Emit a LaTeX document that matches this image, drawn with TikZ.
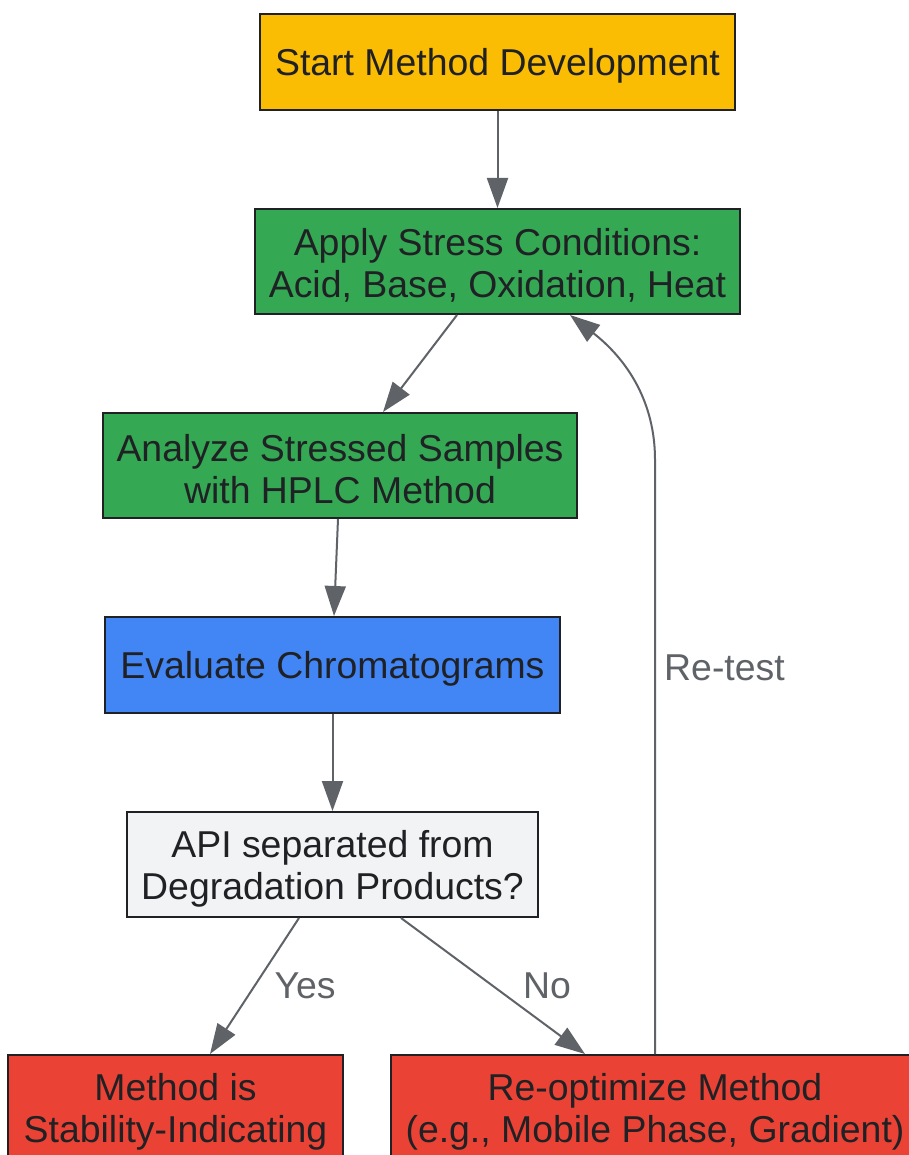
\documentclass[tikz,border=0pt]{standalone}
\usepackage{fontspec}
\setmainfont{Liberation Sans}
\usetikzlibrary{arrows.meta,calc}
\definecolor{cyellow}{HTML}{FBBC04}
\definecolor{cgreen}{HTML}{34A853}
\definecolor{cblue}{HTML}{4285F4}
\definecolor{cgray}{HTML}{F1F3F4}
\definecolor{cred}{HTML}{EA4335}
\definecolor{ctext}{HTML}{202124}
\definecolor{cedge}{HTML}{5F6368}
\tikzset{
  box/.style={draw=ctext, line width=2pt, inner sep=0pt},
  txt/.style={align=center, text=ctext, inner sep=0pt, yshift=-4pt,
    font=\fontsize{37.4pt}{42pt}\selectfont},
  edge/.style={draw=cedge, line width=2pt, -{Triangle[length=30pt,width=21pt]}},
  elabel/.style={text=cedge, font=\fontsize{37.4pt}{42pt}\selectfont, inner sep=0pt}
}
\begin{document}
\begin{tikzpicture}[x=1pt,y=-1pt]
\useasboundingbox (0,0) rectangle (909,1155);
\clip (0,0) rectangle (909,1155);
\fill[white] (0,0) rectangle (909,1155);
\node[box, fill=cyellow, minimum width=475pt, minimum height=96pt,
  label={[txt]center:Start Method Development}] (start) at (497.5,62) {};
\node[box, fill=cgreen, minimum width=485pt, minimum height=105pt,
  label={[txt]center:Apply Stress Conditions:\\Acid, Base, Oxidation, Heat}] (apply) at (497.5,261.5) {};
\node[box, fill=cgreen, minimum width=474pt, minimum height=105pt,
  label={[txt]center:Analyze Stressed Samples\\with HPLC Method}] (analyze) at (340,465.5) {};
\node[box, fill=cblue, minimum width=455pt, minimum height=96pt,
  label={[txt]center:Evaluate Chromatograms}] (eval) at (332.5,665) {};
\node[box, fill=cgray, minimum width=411pt, minimum height=105pt,
  label={[txt]center:API separated from\\Degradation Products?}] (api) at (332.5,864.5) {};
\node[box, fill=cred, minimum width=335pt, minimum height=105pt,
  label={[txt]center:Method is\\Stability-Indicating}] (meth) at (175.5,1107.5) {};
\node[box, fill=cred, minimum width=528pt, minimum height=105pt,
  label={[txt]center:Re-optimize Method\\(e.g., Mobile Phase, Gradient)}] (reopt) at (655,1107.5) {};

\draw[edge] (start.south) -- (apply.north);
\draw[edge] ($(apply.south)+(-40.5,0)$) -- ($(analyze.north)+(43,0)$);
\draw[edge] ($(analyze.south)+(-2,0)$) -- ($(eval.north)+(1.5,0)$);
\draw[edge] (eval.south) -- (api.north);
\draw[edge] ($(api.south)+(-33.5,0)$) -- node[elabel, pos=0.5, right=19pt] (yes) {Yes} ($(meth.north)+(34.5,0)$);
\draw[edge] ($(api.south)+(68.5,0)$) -- node[elabel, pos=0.5, right=29pt] (no) {No} ($(reopt.north)+(-70,0)$);
\coordinate (bend) at (655,460);
\draw[edge] (reopt.north) -- (bend) .. controls (655,390) and (615,350) .. ($(apply.south)+(72.5,0)$);
\node[elabel, anchor=west] (retest) at (664,668) {Re-test};
\end{tikzpicture}
\end{document}
